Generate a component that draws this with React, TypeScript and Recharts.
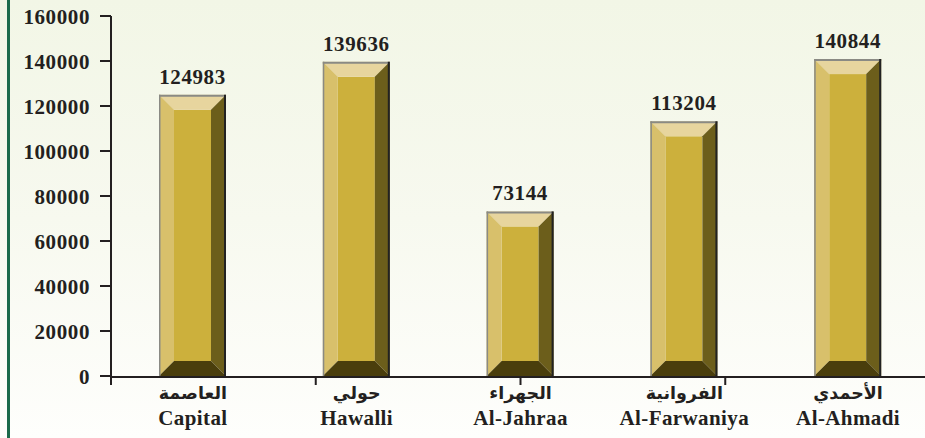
import React from "react";
import { BarChart, Bar, XAxis, YAxis, LabelList } from "recharts";

const arabicNames = ["العاصمة", "حولي", "الجهراء", "الفروانية", "الأحمدي"];
const englishNames = ["Capital", "Hawalli", "Al-Jahraa", "Al-Farwaniya", "Al-Ahmadi"];
const values = [124983, 139636, 73144, 113204, 140844];
const yTicks = [0, 20000, 40000, 60000, 80000, 100000, 120000, 140000, 160000];

const data = englishNames.map((en, i) => ({ name: en, ar: arabicNames[i], value: values[i] }));

const SERIF = "'Liberation Serif', 'Times New Roman', serif";

const BevelBar = (props: any) => {
  const { x, y, width: w, height: h } = props;
  if (!h || h <= 0) return null;
  const b = Math.min(15, w / 2, h / 2);
  return (
    <g>
      <rect x={x + b} y={y + b} width={w - 2 * b} height={h - 2 * b} fill="#ccb03c" />
      <polygon points={`${x},${y} ${x + w},${y} ${x + w - b},${y + b} ${x + b},${y + b}`} fill="#e7d59e" />
      <polygon points={`${x},${y} ${x + b},${y + b} ${x + b},${y + h - b} ${x},${y + h}`} fill="#d8c06b" />
      <polygon points={`${x + w},${y} ${x + w},${y + h} ${x + w - b},${y + h - b} ${x + w - b},${y + b}`} fill="#6c5e1b" />
      <polygon points={`${x},${y + h} ${x + w},${y + h} ${x + w - b},${y + h - b} ${x + b},${y + h - b}`} fill="#4a3e0c" />
      <line x1={x} y1={y + 1} x2={x + w} y2={y + 1} stroke="#8a8a84" strokeWidth={2} />
      <line x1={x + 0.75} y1={y} x2={x + 0.75} y2={y + h} stroke="#8a8a84" strokeWidth={1.5} />
      <line x1={x + w - 1} y1={y} x2={x + w - 1} y2={y + h} stroke="#222" strokeWidth={2} />
    </g>
  );
};

const ValueLabel = (props: any) => {
  const { x, y, width, value } = props;
  return (
    <text x={x + width / 2} y={y - 11} textAnchor="middle" fontFamily={SERIF} fontWeight="bold" fontSize={21} letterSpacing={0.6} fill="#231f20">
      {value}
    </text>
  );
};

const CatTick = (props: any) => {
  const { x, y, payload, index } = props;
  return (
    <g>
      <text x={x} y={y + 23} textAnchor="middle" fontFamily="'DejaVu Sans', sans-serif" fontWeight="bold" fontSize={17.5} fill="#231f20">
        {arabicNames[index]}
      </text>
      <text x={x} y={y + 49} textAnchor="middle" fontFamily={SERIF} fontWeight="bold" fontSize={21} letterSpacing={0.4} fill="#231f20">
        {payload.value}
      </text>
    </g>
  );
};

const EmptyTick = () => <g />;

const YTick = (props: any) => {
  const { x, y, payload } = props;
  return (
    <text x={x} y={y} dy="0.36em" textAnchor="end" fontFamily={SERIF} fontWeight="bold" fontSize={21} letterSpacing={0.6} fill="#231f20">
      {payload.value}
    </text>
  );
};

export default function App() {
  return (
    <div
      style={{
        position: "absolute",
        left: 0,
        top: 0,
        width: 925,
        height: 438,
        overflow: "hidden",
        background: "linear-gradient(to bottom, #f2f6e6 0%, #f7f9ef 50%, #fefefc 100%)",
      }}
    >
      <div style={{ position: "absolute", left: 7, top: 0, width: 3, height: 438, background: "#1b6a4b" }} />
      <div style={{ position: "absolute", left: 0, top: 0 }}>
        <BarChart
          width={930}
          height={438}
          data={data}
          margin={{ top: 16, right: 0, bottom: 60, left: 0 }}
        >
          <XAxis
            xAxisId="num"
            type="number"
            domain={[0, 5]}
            ticks={[0, 1, 2, 3, 4, 5]}
            interval={0}
            tick={<EmptyTick />}
            tickSize={8}
            height={1}
            axisLine={{ stroke: "#231f20", strokeWidth: 2 }}
            tickLine={{ stroke: "#231f20", strokeWidth: 2 }}
            allowDataOverflow
          />
          <XAxis
            xAxisId="cat"
            dataKey="name"
            height={1}
            axisLine={false}
            tickLine={false}
            tickSize={0}
            tickMargin={0}
            interval={0}
            tick={<CatTick />}
          />
          <YAxis
            width={111}
            domain={[0, 160000]}
            ticks={yTicks}
            interval={0}
            tickSize={11}
            tickMargin={10}
            axisLine={{ stroke: "#231f20", strokeWidth: 2 }}
            tickLine={{ stroke: "#231f20", strokeWidth: 2 }}
            tick={<YTick />}
          />
          <Bar xAxisId="cat" dataKey="value" barSize={67} shape={<BevelBar />} isAnimationActive={false}>
            <LabelList dataKey="value" content={<ValueLabel />} />
          </Bar>
        </BarChart>
      </div>
    </div>
  );
}
